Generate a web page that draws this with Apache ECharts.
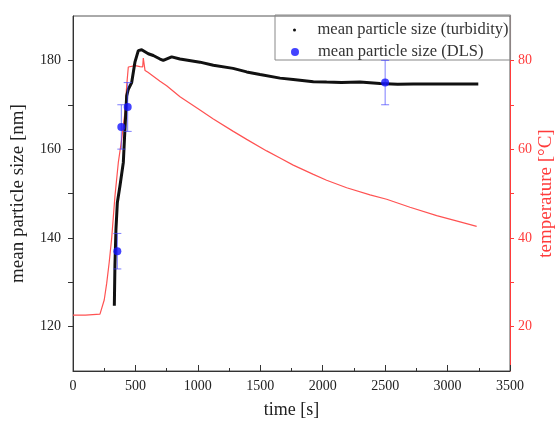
<!DOCTYPE html>
<html><head><meta charset="utf-8">
<script src="https://cdn.jsdelivr.net/npm/echarts@6/dist/echarts.min.js"></script>
<style>html,body{margin:0;padding:0;background:#fff}#c{width:556px;height:423px}</style>
</head><body><div id="c"></div>
<script>
// mean particle size from turbidity (time [s], size [nm])
const turbTime = [331, 336, 344, 355, 376, 403, 416, 430, 443, 470, 496, 523, 550, 603, 643, 697, 723, 790, 857, 1017, 1124, 1282, 1391, 1498, 1658, 1764, 1925, 2031, 2150, 2298, 2459, 2600, 2725, 2966, 3100, 3246];
const turbSize = [124.7, 134, 141.9, 147.9, 151.7, 157, 164.5, 172, 173.5, 175, 179.6, 182.2, 182.4, 181.5, 181.1, 180.3, 180, 180.8, 180.3, 179.6, 178.9, 178.2, 177.4, 176.8, 176, 175.7, 175.2, 175.1, 175.0, 175.1, 174.8, 174.6, 174.7, 174.7, 174.7, 174.7];
// temperature (time [s], temperature [°C])
const tempTime = [0, 100, 216, 250, 270, 290, 310, 336, 363, 390, 416, 430, 443, 456, 500, 536, 558, 563, 570, 577, 600, 697, 750, 857, 1017, 1124, 1284, 1391, 1551, 1658, 1764, 1925, 2031, 2192, 2379, 2512, 2699, 2913, 3100, 3233];
const tempValue = [22.6, 22.6, 22.8, 26, 29.8, 34.5, 40, 49.4, 57, 62.2, 68.3, 74.3, 78.5, 78.8, 78.8, 78.6, 78.5, 80.5, 80.5, 77.7, 77.3, 75.3, 74.3, 71.8, 68.8, 66.8, 64.0, 62.2, 59.6, 58.0, 56.4, 54.3, 53.0, 51.3, 49.7, 48.7, 46.9, 45.0, 43.6, 42.6];
// mean particle size from DLS with error
const dlsTime = [355, 387, 438, 2500];
const dlsSize = [137, 165, 169.5, 175];
const dlsErr = [4, 5, 5.5, 5];
// axis ticks / labels
const leftLabels = [120, 140, 160, 180];
const leftTicks = [120, 130, 140, 150, 160, 170, 180];
const rightLabels = [20, 40, 60, 80];
const rightTicks = [20, 30, 40, 50, 60, 70, 80];

const FONT = 'Liberation Serif';
const RED = '#ff3b3b';
const chart = echarts.init(document.getElementById('c'));
chart.setOption({
  animation: false,
  backgroundColor: '#fff',
  grid: {left: 73, right: 46, top: 16, bottom: 52, outerBoundsMode: 'none', containLabel: false,
         show: true, borderColor: '#555', borderWidth: 1, backgroundColor: 'transparent'},
  legend: [
    {data: [{name: 'mean particle size (turbidity)', icon: 'circle'}], left: 275, top: 15, orient: 'vertical',
     itemWidth: 36, itemHeight: 3, padding: [6, 2, 21, 18], borderColor: '#888', borderWidth: 1, selectedMode: false,
     textStyle: {fontFamily: FONT, fontSize: 16.5, color: '#333', lineHeight: 18}},
    {data: [{name: 'mean particle size (DLS)', icon: 'circle'}], left: 275, top: 43, orient: 'vertical',
     itemWidth: 36, itemHeight: 8, padding: [0, 2, 0, 16], selectedMode: false,
     textStyle: {fontFamily: FONT, fontSize: 16.5, color: '#333', lineHeight: 18}}
  ],
  xAxis: {
    type: 'value', min: 0, max: 3500, interval: 500,
    name: 'time [s]', nameLocation: 'middle', nameGap: 30,
    nameTextStyle: {fontFamily: FONT, fontSize: 18, color: '#222'},
    axisLine: {lineStyle: {color: '#333', width: 1}},
    axisTick: {inside: true, length: 6, lineStyle: {color: '#333'}},
    minorTick: {show: true, splitNumber: 2, length: 3, lineStyle: {color: '#333'}},
    splitLine: {show: false},
    axisLabel: {fontFamily: FONT, fontSize: 14, color: '#222', margin: 8, formatter: v => String(v)}
  },
  yAxis: [
    {
      type: 'value', min: 110, max: 190, position: 'left',
      name: 'mean particle size [nm]', nameLocation: 'middle', nameGap: 45,
      nameTextStyle: {fontFamily: FONT, fontSize: 19, color: '#222'},
      axisLine: {show: true, lineStyle: {color: '#333', width: 1}},
      axisTick: {show: true, length: 5, customValues: leftTicks, lineStyle: {color: '#333'}},
      axisLabel: {customValues: leftLabels, fontFamily: FONT, fontSize: 14, color: '#222', margin: 12},
      splitLine: {show: false}
    },
    {
      type: 'value', min: 10, max: 90, position: 'right',
      name: 'temperature [°C]', nameLocation: 'middle', nameGap: 27, nameMoveOverlap: false,
      nameTextStyle: {fontFamily: FONT, fontSize: 19, color: RED},
      axisLine: {show: true, lineStyle: {color: RED, width: 1}},
      axisTick: {show: true, length: 4, customValues: rightTicks, lineStyle: {color: RED}},
      axisLabel: {customValues: rightLabels, fontFamily: FONT, fontSize: 14, color: RED, margin: 8},
      splitLine: {show: false}
    }
  ],
  series: [
    {
      name: 'temperature', type: 'line', yAxisIndex: 1, showSymbol: false, symbol: 'none',
      data: tempTime.map((t, i) => [t, tempValue[i]]),
      lineStyle: {color: '#ff5252', width: 1.2}, itemStyle: {color: '#ff5252'}, z: 2
    },
    {
      name: 'mean particle size (turbidity)', type: 'line', yAxisIndex: 0, showSymbol: false, symbol: 'none',
      data: turbTime.map((t, i) => [t, turbSize[i]]),
      lineStyle: {color: '#111', width: 3}, itemStyle: {color: '#111'}, z: 3
    },
    {
      name: 'DLS error', type: 'custom', yAxisIndex: 0, silent: true, z: 4,
      data: dlsTime.map((t, i) => [t, dlsSize[i] - dlsErr[i], dlsSize[i] + dlsErr[i]]),
      encode: {x: 0, y: [1, 2]},
      renderItem: function (params, api) {
        const x = api.value(0);
        const lo = api.coord([x, api.value(1)]);
        const hi = api.coord([x, api.value(2)]);
        const w = 4;
        const st = {stroke: 'rgba(70,70,255,0.7)', lineWidth: 1};
        return {type: 'group', children: [
          {type: 'line', shape: {x1: lo[0], y1: lo[1], x2: hi[0], y2: hi[1]}, style: st},
          {type: 'line', shape: {x1: lo[0] - w, y1: lo[1], x2: lo[0] + w, y2: lo[1]}, style: st},
          {type: 'line', shape: {x1: hi[0] - w, y1: hi[1], x2: hi[0] + w, y2: hi[1]}, style: st}
        ]};
      }
    },
    {
      name: 'mean particle size (DLS)', type: 'scatter', yAxisIndex: 0, symbolSize: 8,
      data: dlsTime.map((t, i) => [t, dlsSize[i]]),
      itemStyle: {color: '#1414ff'}, z: 5
    }
  ]
});
</script></body></html>
